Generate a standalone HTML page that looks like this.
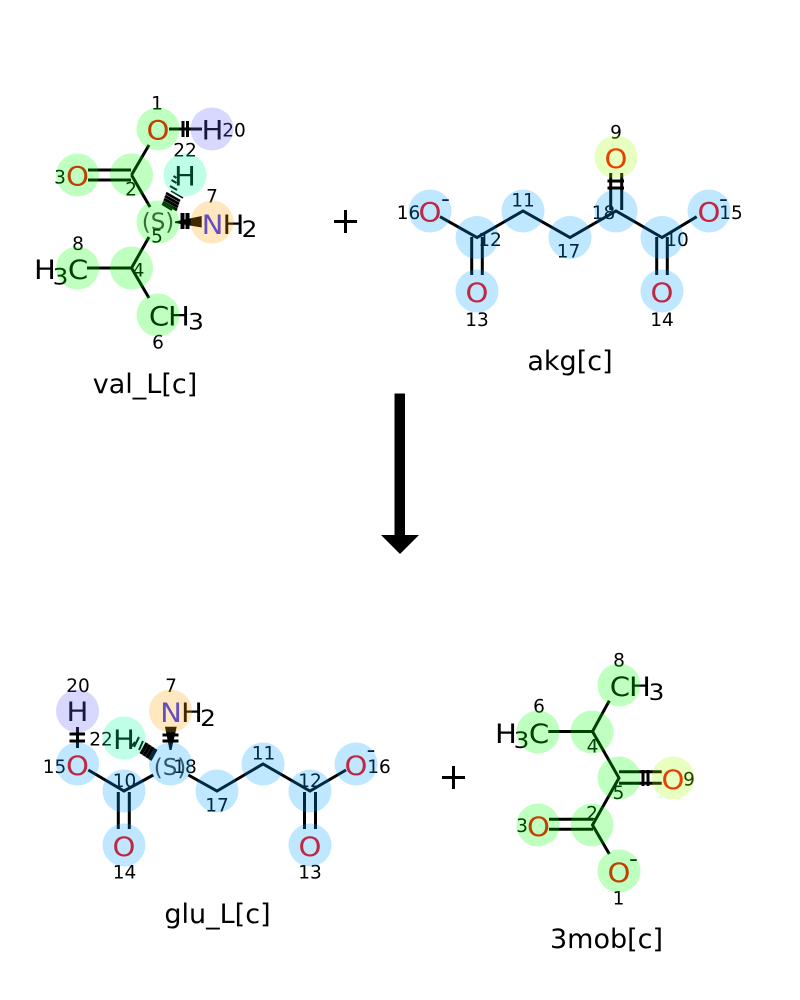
<!DOCTYPE html>
<html>
<head>
<meta charset="utf-8">
<style>
html,body{margin:0;padding:0;background:#fff;width:800px;height:1000px;overflow:hidden}
svg{display:block}
text{font-family:"DejaVu Sans","Liberation Sans",sans-serif;text-anchor:middle}
.b line,.b path{stroke:#000;stroke-width:3;fill:none}
.a{font-size:26.5px;transform-box:fill-box;transform-origin:center;transform:scaleX(1.1)}
.s{font-size:22.5px;transform-box:fill-box;transform-origin:center;transform:scaleX(1.1)}
.n{font-size:18.5px}
.l{font-size:27px}
.O{fill:#ff0000}
.N{fill:#3333ff}
.g{fill:#404040;font-size:23px}
.cg{fill:rgb(0,255,0)}.cb{fill:rgb(0,160,255)}.cp{fill:rgb(100,100,255)}.co{fill:rgb(255,160,0)}.cm{fill:rgb(0,255,160)}.cy{fill:rgb(160,255,0)}
.c circle{fill-opacity:.25}
</style>
</head>
<body>
<svg width="800" height="1000" viewBox="0 0 800 1000" xmlns="http://www.w3.org/2000/svg">
<rect width="800" height="1000" fill="#fff"/>

<!-- reaction symbols -->
<path d="M334 221.5H357M345.5 210V233" stroke="#000" stroke-width="3" fill="none"/>
<path d="M442 777.5H465M453.5 766V789" stroke="#000" stroke-width="3" fill="none"/>
<path d="M394.5 393.5H405V535H419L400 554L381 535H394.5Z" fill="#000"/>

<g class="b">
<!-- val_L -->
<line x1="149" y1="145" x2="131.5" y2="175"/>
<line x1="169" y1="129" x2="202" y2="129"/>
<line x1="183" y1="121" x2="183" y2="137"/><line x1="187.5" y1="121" x2="187.5" y2="137"/>
<line x1="88" y1="170" x2="131" y2="170"/><line x1="88" y1="180" x2="131" y2="180"/>
<line x1="131.5" y1="175" x2="150" y2="207"/>
<line x1="149" y1="237" x2="131.5" y2="268"/>
<line x1="87" y1="268" x2="131.5" y2="268"/>
<line x1="131.5" y1="268" x2="149" y2="298"/>
<line x1="182.5" y1="213" x2="182.5" y2="229" style="stroke-width:4"/><line x1="187.5" y1="213" x2="187.5" y2="229" style="stroke-width:4"/>
<!-- val_L hash -->
<line x1="173.5" y1="176" x2="176.5" y2="178" style="stroke-width:2"/>
<line x1="171.5" y1="180" x2="176.5" y2="183" style="stroke-width:2"/>
<line x1="170" y1="186" x2="177" y2="190" style="stroke-width:2"/>
<line x1="171" y1="191" x2="183" y2="198" style="stroke-width:1.5"/>
<line x1="166" y1="193" x2="180" y2="201" style="stroke-width:2.5"/>
<line x1="165" y1="196" x2="179" y2="204"/>
<line x1="164" y1="199" x2="178" y2="207"/>
<line x1="163" y1="202" x2="177" y2="210"/>
<line x1="162" y1="204" x2="172" y2="210" style="stroke-width:2"/>

<!-- akg -->
<path d="M440 216.7L477 237.5L523 211L570 237.5L616 211L662 237.5L696.7 216.7"/>
<line x1="471.7" y1="237" x2="471.7" y2="275"/><line x1="482.3" y1="237" x2="482.3" y2="275"/>
<line x1="656.7" y1="237" x2="656.7" y2="275"/><line x1="667.3" y1="237" x2="667.3" y2="275"/>
<line x1="610.7" y1="173" x2="610.7" y2="210"/><line x1="621.7" y1="173" x2="621.7" y2="210"/>
<line x1="607.5" y1="181" x2="624" y2="181"/><line x1="607.5" y1="188" x2="624" y2="188"/>

<!-- glu_L -->
<line x1="77.5" y1="727" x2="77.5" y2="748"/>
<line x1="69.5" y1="734" x2="85" y2="734"/><line x1="69.5" y1="741" x2="85" y2="741"/>
<line x1="162.5" y1="735" x2="178.5" y2="735"/><line x1="162.5" y1="741" x2="178.5" y2="741"/>
<path d="M88.3 770L124 791L153.3 775"/>
<path d="M188.3 775L217 791L263 764L310 791L346 770"/>
<line x1="118.3" y1="792" x2="118.3" y2="829"/><line x1="129.3" y1="792" x2="129.3" y2="829"/>
<line x1="304.5" y1="792" x2="304.5" y2="829"/><line x1="315.5" y1="792" x2="315.5" y2="829"/>
<!-- glu hash -->
<line x1="135" y1="742" x2="131" y2="747" style="stroke-width:2"/>
<line x1="139" y1="737" x2="134" y2="747" style="stroke-width:2"/>
<line x1="143" y1="741" x2="139" y2="750" style="stroke-width:2"/>
<line x1="147" y1="743" x2="141" y2="754" style="stroke-width:3.5"/>
<line x1="150" y1="745" x2="144" y2="756" style="stroke-width:3.5"/>
<line x1="153" y1="747" x2="147" y2="758" style="stroke-width:3.5"/>
<line x1="156" y1="749" x2="150" y2="760" style="stroke-width:3.5"/>

<!-- 3mob -->
<line x1="609.3" y1="700.7" x2="592.5" y2="731.5"/>
<line x1="548.3" y1="731.5" x2="592.5" y2="731.5"/>
<path d="M592.5 731.5L619 778L592.5 825L609.3 854"/>
<line x1="619" y1="771.7" x2="661.7" y2="771.7"/><line x1="619" y1="783.3" x2="661.7" y2="783.3"/>
<line x1="643" y1="770" x2="643" y2="786"/><line x1="648" y1="770" x2="648" y2="786"/>
<line x1="549" y1="819.3" x2="593" y2="819.3"/><line x1="549" y1="829.3" x2="593" y2="829.3"/>
</g>

<!-- wedges -->
<path d="M175 221.5L201.7 216V227.5L175 223Z" fill="#000"/>
<path d="M165 726.7H176.7L171.5 750H169.5Z" fill="#000"/>

<!-- val_L text -->
<text class="a O" x="158" y="139.5">O</text>
<text class="a" x="212.5" y="139.5">H</text>
<text class="a O" x="77.5" y="185.5">O</text>
<text class="a" x="185" y="185.5">H</text>
<text class="g" x="158" y="229.5">(S)</text>
<text class="a N" x="212.5" y="234">N</text>
<text class="a" x="233.5" y="234">H</text>
<text class="s" x="249.5" y="237">2</text>
<text class="a" x="45" y="279">H</text>
<text class="s" x="60.5" y="284.5">3</text>
<text class="a" x="78" y="279">C</text>
<text class="a" x="159" y="325.5">C</text>
<text class="a" x="179" y="325.5">H</text>
<text class="s" x="196" y="329.5">3</text>

<text class="n" x="157" y="109.5">1</text>
<text class="n" x="234" y="136.5">20</text>
<text class="n" x="185" y="156.5">22</text>
<text class="n" x="60" y="183.5">3</text>
<text class="n" x="131" y="195.5">2</text>
<text class="n" x="212" y="202.5">7</text>
<text class="n" x="157" y="242.5">5</text>
<text class="n" x="78" y="250">8</text>
<text class="n" x="138.5" y="276.5">4</text>
<text class="n" x="158" y="348.5">6</text>

<!-- akg text -->
<text class="a O" x="616" y="168">O</text>
<text class="a O" x="430" y="221.5">O</text>
<text class="a O" x="709" y="221.5">O</text>
<text class="a O" x="477" y="302">O</text>
<text class="a O" x="662" y="302">O</text>
<text class="s" x="445.5" y="206">-</text>
<text class="s" x="723.5" y="206">-</text>
<text class="n" x="616" y="138.5">9</text>
<text class="n" x="408.5" y="219">16</text>
<text class="n" x="523" y="206.5">11</text>
<text class="n" x="603.5" y="219">18</text>
<text class="n" x="731" y="219">15</text>
<text class="n" x="490" y="246">12</text>
<text class="n" x="568.5" y="257.5">17</text>
<text class="n" x="677" y="246">10</text>
<text class="n" x="477" y="326">13</text>
<text class="n" x="662" y="326">14</text>

<!-- glu_L text -->
<text class="a" x="77.5" y="721">H</text>
<text class="a N" x="171" y="722">N</text>
<text class="a" x="192" y="722">H</text>
<text class="s" x="208" y="726">2</text>
<text class="a" x="124" y="749">H</text>
<text class="a O" x="77.5" y="775">O</text>
<text class="g" x="170" y="775">(S)</text>
<text class="a O" x="356" y="775">O</text>
<text class="a O" x="124" y="856">O</text>
<text class="a O" x="310" y="856">O</text>
<text class="s" x="371" y="757">-</text>
<text class="n" x="78" y="692">20</text>
<text class="n" x="171" y="692">7</text>
<text class="n" x="101" y="745.5">22</text>
<text class="n" x="54.5" y="773">15</text>
<text class="n" x="185" y="773">18</text>
<text class="n" x="124.5" y="787">10</text>
<text class="n" x="217" y="811.5">17</text>
<text class="n" x="263.5" y="759.5">11</text>
<text class="n" x="310" y="787">12</text>
<text class="n" x="379" y="773">16</text>
<text class="n" x="124.5" y="878.5">14</text>
<text class="n" x="310" y="878.5">13</text>

<!-- 3mob text -->
<text class="a" x="620" y="696">C</text>
<text class="a" x="640" y="696">H</text>
<text class="s" x="656.5" y="700">3</text>
<text class="a" x="506" y="743">H</text>
<text class="s" x="521.5" y="748">3</text>
<text class="a" x="539" y="743">C</text>
<text class="a O" x="673" y="789">O</text>
<text class="a O" x="538.5" y="836">O</text>
<text class="a O" x="619" y="882">O</text>
<text class="s" x="633.5" y="866">-</text>
<text class="n" x="619" y="666.5">8</text>
<text class="n" x="539" y="712.5">6</text>
<text class="n" x="592.5" y="752.5">4</text>
<text class="n" x="618.5" y="799">5</text>
<text class="n" x="689" y="785.5">9</text>
<text class="n" x="522" y="832">3</text>
<text class="n" x="592" y="819.5">2</text>
<text class="n" x="618.5" y="904.5">1</text>

<!-- captions -->
<text class="l" x="145" y="393">val_L[c]</text>
<text class="l" x="570" y="370">akg[c]</text>
<text class="l" x="217.5" y="923">glu_L[c]</text>
<text class="l" x="606.5" y="948">3mob[c]</text>

<!-- highlight circles -->
<g class="c">
<g class="cg">
<circle cx="158" cy="129" r="21.5"/><circle cx="77.5" cy="175" r="21.5"/><circle cx="131.5" cy="175" r="21.5"/><circle cx="158" cy="222" r="21.5"/><circle cx="77.5" cy="268" r="21.5"/><circle cx="131.5" cy="268" r="21.5"/><circle cx="158" cy="315" r="21.5"/>
<circle cx="619" cy="685" r="21.5"/><circle cx="538" cy="732" r="21.5"/><circle cx="592" cy="732" r="21.5"/><circle cx="619" cy="778" r="21.5"/><circle cx="538" cy="825" r="21.5"/><circle cx="592" cy="825" r="21.5"/><circle cx="619" cy="871" r="21.5"/>
</g>
<g class="cb">
<circle cx="430" cy="211" r="21.5"/><circle cx="523" cy="211" r="21.5"/><circle cx="616" cy="211" r="21.5"/><circle cx="709" cy="211" r="21.5"/><circle cx="477" cy="237.5" r="21.5"/><circle cx="570" cy="237.5" r="21.5"/><circle cx="662" cy="237.5" r="21.5"/><circle cx="477" cy="291" r="21.5"/><circle cx="662" cy="291" r="21.5"/>
<circle cx="77.5" cy="764" r="21.5"/><circle cx="170.5" cy="764" r="21.5"/><circle cx="263" cy="764" r="21.5"/><circle cx="356" cy="764" r="21.5"/><circle cx="124" cy="791" r="21.5"/><circle cx="217" cy="791" r="21.5"/><circle cx="310" cy="791" r="21.5"/><circle cx="124" cy="845" r="21.5"/><circle cx="310" cy="845" r="21.5"/>
</g>
<g class="cp"><circle cx="212" cy="129" r="21.5"/><circle cx="77.5" cy="711" r="21.5"/></g>
<g class="co"><circle cx="212" cy="222" r="21.5"/><circle cx="170.5" cy="711" r="21.5"/></g>
<g class="cm"><circle cx="185" cy="175" r="21.5"/><circle cx="124" cy="738" r="21.5"/></g>
<g class="cy"><circle cx="616" cy="157" r="21.5"/><circle cx="673" cy="778" r="21.5"/></g>
</g>
</svg>
</body>
</html>
